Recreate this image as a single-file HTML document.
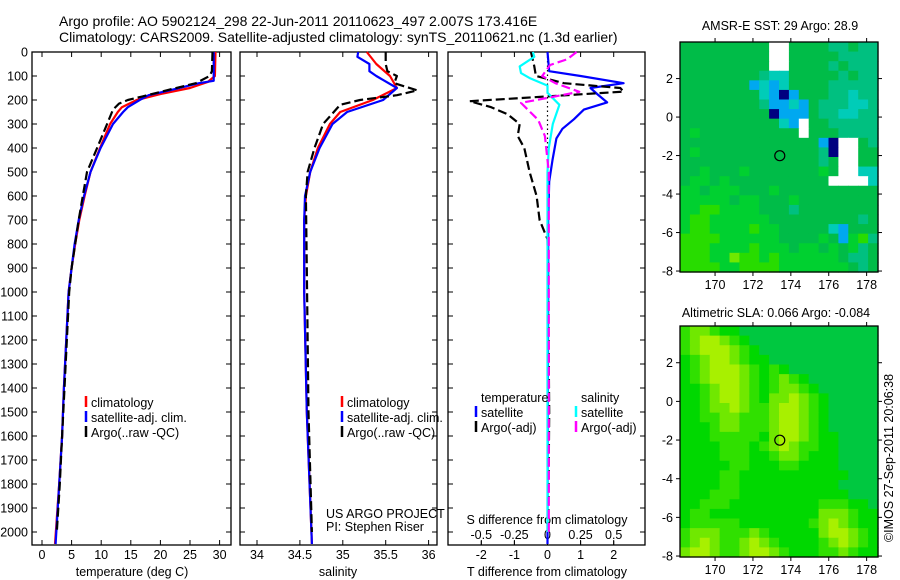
<!DOCTYPE html>
<html><head><meta charset="utf-8"><style>
html,body{margin:0;padding:0;background:#fff;}
svg{display:block;font-family:"Liberation Sans",sans-serif;}
text{font-size:12.5px;fill:#000;}
</style></head><body>
<svg id="fig" width="900" height="580" viewBox="0 0 900 580">
<text x="59" y="26" style="font-size:14px">Argo profile: AO 5902124_298 22-Jun-2011 20110623_497 2.007S 173.416E</text>
<text x="59" y="42" style="font-size:14px">Climatology: CARS2009. Satellite-adjusted climatology: synTS_20110621.nc (1.3d earlier)</text>
<g id="maps"></g>
<g id="plots"></g>
<text x="326" y="518">US ARGO PROJECT</text>
<text x="326" y="531">PI: Stephen Riser</text>
<text x="780" y="30" text-anchor="middle" style="font-size:12.5px">AMSR-E SST: 29 Argo: 28.9</text>
<text x="776" y="317" text-anchor="middle" style="font-size:12.5px">Altimetric SLA: 0.066 Argo: -0.084</text>
<text transform="translate(893,458) rotate(-90)" text-anchor="middle" style="font-size:12.5px">©IMOS 27-Sep-2011 20:06:38</text>
</svg>
<script>
const depthTicks = [0,100,200,300,400,500,600,700,800,900,1000,1100,1200,1300,1400,1500,1600,1700,1800,1900,2000];
const tempTicks = [0,5,10,15,20,25,30];
const salTicks = [34,34.5,35,35.5,36];
const salTickLabels = ["34","34.5","35","35.5","36"];
const tdiffTicks = [-2,-1,0,1,2];
const sdiffTicks = [-0.5,-0.25,0,0.25,0.5];

const tempClimD = [0,100,125,150,175,200,230,250,300,400,500,600,700,800,900,1000,1400,1600,1800,2050];
const tempClim  = [29.3,29.2,28,25,20,16,13.5,12.8,11.5,9.8,8.2,7.2,6.3,5.6,5.0,4.5,3.7,3.4,2.9,2.2];
const tempSatD  = [0,120,130,160,180,200,230,250,300,400,500,600,700,800,900,1000,1400,1600,1800,2050];
const tempSat   = [29.0,29.0,26.5,21.5,18,16.5,14.5,13.7,12,9.9,8.2,7.1,6.2,5.5,5.0,4.5,3.7,3.4,2.9,2.3];
const tempArgoD = [0,80,100,130,160,185,200,215,240,300,400,500,600,700,800,900,1000,1400,1600,1800,2000];
const tempArgo  = [28.8,28.7,28.3,26,21,17,14.5,13,12,11,9.3,7.6,6.9,6.2,5.6,5.0,4.6,3.8,3.4,3.0,2.5];

const salClimD = [0,50,100,150,200,250,300,400,500,600,700,1000,1500,2050];
const salClim  = [35.28,35.39,35.55,35.63,35.35,34.97,34.85,34.71,34.62,34.57,34.55,34.55,34.58,34.64];
const salSatD  = [0,20,50,80,100,150,200,250,300,400,500,600,700,1000,1500,2050];
const salSat   = [35.18,35.17,35.31,35.31,35.39,35.63,35.47,35.05,34.88,34.73,34.62,34.56,34.55,34.55,34.58,34.64];
const salArgoD = [0,50,80,100,130,160,180,200,220,300,400,500,600,900,1500,2000];
const salArgo  = [35.5,35.5,35.52,35.63,35.6,35.87,35.63,35.2,34.97,34.77,34.67,34.59,34.57,34.58,34.6,34.64];

const tdSatD  = [0,80,100,130,150,175,210,240,280,320,360,450,540,700,800,1000,1500,2050];
const tdSat   = [0,0.05,1.0,2.3,1.3,1.5,1.8,1.1,0.8,0.45,0.27,0.15,0.05,0.02,0.02,0.02,0.01,0.0];
const tdArgoD = [0,60,100,130,150,165,185,205,230,260,300,350,400,500,600,700,780,1000,1500,2000];
const tdArgo  = [-0.5,-0.4,-0.35,0.5,2.2,2.3,0.0,-2.35,-1.7,-1.2,-0.84,-0.9,-0.7,-0.54,-0.33,-0.24,0.0,0.02,0.05,0.02];
const sdSatD  = [0,20,60,88,110,140,170,220,300,400,500,2000];
const sdSat   = [-0.11,-0.1,-0.21,-0.2,-0.13,0.0,0.0,0.09,0.04,0.01,0.0,0.0];
const sdArgoD = [0,30,54,100,130,166,212,283,350,500,2000];
const sdArgo  = [0.22,0.15,0.02,-0.04,0.06,0.24,-0.2,-0.07,-0.02,0.01,0.01];

const sstGrid = [
"gggggggggwwggggttgtt","gggggggggwwgggggtttt","gggggggggwwggggtgttt","ggggggggtccgggggtgtt",
"gggggggbcbcggggttttt","ggggggggcbBbgggttctt","ggggggggtbbcbgtttcct","gggggggggBbbbgttcctt",
"ggggggggggcbwggttttt","gGggggggggggwgggtttt","ggggggggggggggbBwwgt","gGggggggggggggtBwwgg",
"ggggggggggggggtgwwgg","ggGgggGgggggggGgwwcc","gGGgGggggggggggwwwwc","GGgGGGgggGgggggggggg",
"GGGGGgGGgggGgggggggg","GGLLGGGGgggtgggggggg","GLLGGGGGGgggggggggtg","GLLGGGGLGGgggggcbggg",
"LLLLGGGGGGggggGgbGLt","LLLGGGGLGGGgGGgGgGtg","LLLGGYLLGLGGGGGGgttg","LLLLGGLLLLGGGGGGGgtg"];
const sstColors = {g:"#00bc48",G:"#00d030",L:"#28dc00",Y:"#70e800",t:"#00c080",c:"#00ccb8",b:"#00a8f0",B:"#000080",w:"#ffffff"};
const slaGrid = [
"GLLGggdddddddddddddd","GLyyLGgddddddddddddd","GLyyyLGgdddddddddddd","gGLyyLGggddddddddddd",
"gGLyyyLGgGgddddddddd","gGLyyyLGgGLGgddddddd","ggGLyyLGgGLLGgdddddd","ggGLyyLGgLLyLGgddddd",
"ggGLLyLGGLyyLGgddddd","ggGGLLGGGLyyLGgddddd","gggGLLGGGLyyLGgddddd","gggGGGGGgLyyLGggdddd",
"ggggGGGgGLyLGGggdddd","ggggGGGggGLLGgggdddd","gggggGGgggGGggggdddd","ggggGGgggggggggggddd",
"ggggGGggggggggggdddd","gggGGGgggggggggggddd","ggGGGgggggggggGGGggd","gGGgggggggggggLLLGgg",
"gGGGGGgggggggGLyLGgg","GLLLGGGLGgggggLyyLGg","GLyLGGLyLGggggGLyLGg","LyyLGGLyyLGgggGGLGgg"];
const slaColors = {d:"#00c840",g:"#00d800",G:"#30e000",L:"#70e800",y:"#a8f000"};
const latTicks = [2,0,-2,-4,-6,-8];
const lonTicks = [170,172,174,176,178];
const argoLon = 173.416, argoLat = -2.007;

const NS="http://www.w3.org/2000/svg";
const plots=document.getElementById('plots'), maps=document.getElementById('maps');
function mk(tag,attrs,parent){const e=document.createElementNS(NS,tag);for(const k in attrs)e.setAttribute(k,attrs[k]);(parent||plots).appendChild(e);return e;}
const Y0=52,Y1=545;
const yD=d=>Y0+d*0.24;
const xT=v=>42+v*5.92;
const xS=v=>257+(v-34)*85.8;
const xTD=v=>547.5+v*33.1;
const xSD=v=>547.5+v*132.4;

const panels=[{x0:32,x1:231,name:'temperature-panel'},{x0:240,x1:437,name:'salinity-panel'},{x0:448,x1:645,name:'difference-panel'}];
panels.forEach(p=>{
  const r=mk('rect',{x:p.x0,y:Y0,width:p.x1-p.x0,height:Y1-Y0,fill:'none',stroke:'#000','stroke-width':1.3});
  
  
  depthTicks.forEach(d=>{
    mk('line',{x1:p.x0,x2:p.x0+5,y1:yD(d),y2:yD(d),stroke:'#000'});
    mk('line',{x1:p.x1,x2:p.x1-5,y1:yD(d),y2:yD(d),stroke:'#000'});
  });
});
depthTicks.forEach(d=>{
  const t=mk('text',{x:28,y:yD(d)+4.5,'text-anchor':'end'});t.textContent=d;
  
  
});
function xticks(ticks,labels,fx,ylab,top){
  ticks.forEach((v,i)=>{
    const x=fx(v);
    mk('line',{x1:x,x2:x,y1:Y1,y2:Y1-5,stroke:'#000'});
    if(top) mk('line',{x1:x,x2:x,y1:Y0,y2:Y0+5,stroke:'#000'});
    const t=mk('text',{x:x,y:ylab,'text-anchor':'middle'});t.textContent=labels[i];
    
    
  });
}
xticks(tempTicks,tempTicks.map(String),xT,559,true);
xticks(salTicks,salTickLabels,xS,559,true);
xticks(tdiffTicks,tdiffTicks.map(String),xTD,559,true);
sdiffTicks.forEach(v=>{
  const x=xSD(v);
  mk('line',{x1:x,x2:x,y1:Y1,y2:Y1-4,stroke:'#000'});
  const t=mk('text',{x:x,y:539,'text-anchor':'middle'});t.textContent=String(v);
  
  
});
function lab(txt,x,y,name,anchor){const t=mk('text',{x:x,y:y,'text-anchor':anchor||'middle'});t.textContent=txt;
  
  return t;}
lab('temperature (deg C)',132,576,'x-axis-title-temperature');
lab('salinity',338,576,'x-axis-title-salinity');
lab('T difference from climatology',547,576,'x-axis-title-t-diff');
lab('S difference from climatology',547,524,'s-diff-axis-title');

mk('line',{x1:xTD(0),x2:xTD(0),y1:Y0,y2:yD(400),stroke:'#000','stroke-dasharray':'1.5,3','stroke-width':1.2});

function series(D,V,fx,color,dash,name){
  const pts=D.map((d,i)=>fx(V[i]).toFixed(1)+','+yD(d).toFixed(1)).join(' ');
  const a={points:pts,fill:'none',stroke:color,'stroke-width':2.2,'stroke-linejoin':'round'};
  if(dash)a['stroke-dasharray']=dash;
  const e=mk('polyline',a);
  
  
}
series(tempClimD,tempClim,xT,'#ff0000',null,'temp-climatology-line');
series(tempSatD,tempSat,xT,'#0000ff',null,'temp-satellite-line');
series(tempArgoD,tempArgo,xT,'#000',"9,4",'temp-argo-line');
series(salClimD,salClim,xS,'#ff0000',null,'sal-climatology-line');
series(salSatD,salSat,xS,'#0000ff',null,'sal-satellite-line');
series(salArgoD,salArgo,xS,'#000',"9,4",'sal-argo-line');
series(tdSatD,tdSat,xTD,'#0000ff',null,'tdiff-satellite-line');
series(tdArgoD,tdArgo,xTD,'#000',"9,4",'tdiff-argo-line');
series(sdSatD,sdSat,xSD,'#00ffff',null,'sdiff-satellite-line');
series(sdArgoD,sdArgo,xSD,'#ff00ff',"9,4",'sdiff-argo-line');

function legend(items,x,y,name){
  items.forEach((it,i)=>{
    const yy=y+i*15;
    if(it.c){const m=mk('line',{x1:x,x2:x,y1:yy-11,y2:yy,stroke:it.c,'stroke-width':2.5});
      
      }
    lab(it.t,x+5,yy,name+'-entry','start');
  });
}
legend([{t:'climatology',c:'#ff0000'},{t:'satellite-adj. clim.',c:'#0000ff'},{t:'Argo(..raw -QC)',c:'#000'}],86,407,'temp-legend');
legend([{t:'climatology',c:'#ff0000'},{t:'satellite-adj. clim.',c:'#0000ff'},{t:'Argo(..raw -QC)',c:'#000'}],342,407,'sal-legend');
legend([{t:'temperature',c:null},{t:'satellite',c:'#0000ff'},{t:'Argo(-adj)',c:'#000'}],476,402,'tdiff-legend');
legend([{t:'salinity',c:null},{t:'satellite',c:'#00ffff'},{t:'Argo(-adj)',c:'#ff00ff'}],576,402,'sdiff-legend');

function drawMap(grid,colors,top,bot,name){
  const X0=680,X1=878,lonMin=168.15,lonMax=178.6,latMax=3.9,latMin=-8.05;
  const fx=lon=>X0+(lon-lonMin)/(lonMax-lonMin)*(X1-X0);
  const fy=lat=>top+(latMax-lat)/(latMax-latMin)*(bot-top);
  const g=mk('g',{},maps);
  
  
  const rows=grid.length,cols=grid[0].length,cw=(X1-X0)/cols,ch=(bot-top)/rows;
  grid.forEach((row,r)=>{for(let c=0;c<cols;c++){
    mk('rect',{x:(X0+c*cw).toFixed(2),y:(top+r*ch).toFixed(2),width:(cw+0.6).toFixed(2),height:(ch+0.6).toFixed(2),fill:colors[row[c]]},g);
  }});
  mk('rect',{x:X0,y:top,width:X1-X0,height:bot-top,fill:'none',stroke:'#000','stroke-width':1.3},g);
  latTicks.forEach(v=>{const y=fy(v);
    mk('line',{x1:X0-4,x2:X0,y1:y,y2:y,stroke:'#000'},g);mk('line',{x1:X1,x2:X1+4,y1:y,y2:y,stroke:'#000'},g);
    const t=mk('text',{x:X0-7,y:y+4.5,'text-anchor':'end'},g);t.textContent=v;
    
    });
  lonTicks.forEach(v=>{const x=fx(v);
    mk('line',{x1:x,x2:x,y1:top-4,y2:top,stroke:'#000'},g);mk('line',{x1:x,x2:x,y1:bot,y2:bot+4,stroke:'#000'},g);
    const t=mk('text',{x:x,y:bot+17,'text-anchor':'middle'},g);t.textContent=v;
    
    });
  const c=mk('circle',{cx:fx(argoLon),cy:fy(argoLat),r:5,fill:'none',stroke:'#000','stroke-width':1.2},g);
  
  
}
drawMap(sstGrid,sstColors,42,272,'sst-map');
drawMap(slaGrid,slaColors,326,557,'sla-map');
</script>
</body></html>
